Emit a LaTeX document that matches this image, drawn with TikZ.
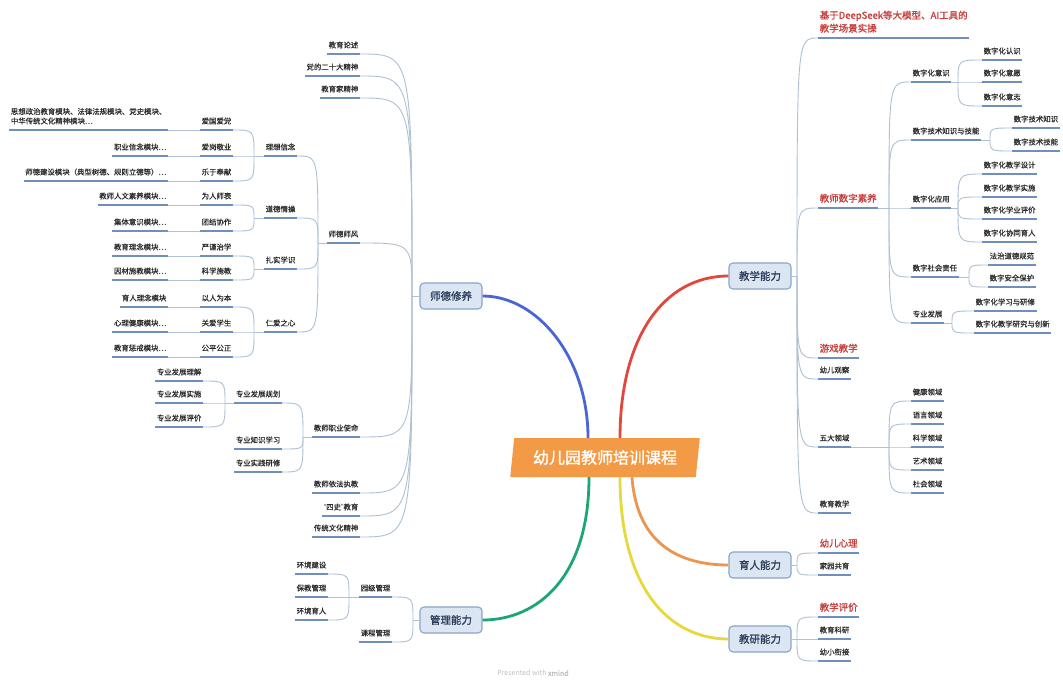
\documentclass[tikz,border=0pt]{standalone}
\usepackage{fontspec}
\setmainfont{Noto Sans CJK SC}
\newfontfamily\bfcjk{Noto Sans CJK SC}[FakeBold=1.2]
\newfontfamily\midcjk{Noto Sans CJK SC}[FakeBold=0.4]
\newfontfamily\latq{Liberation Sans}
\usetikzlibrary{shapes.geometric}
\definecolor{conncol}{HTML}{AFC0D2}
\definecolor{ulcol}{HTML}{6F8FC0}
\definecolor{txt}{HTML}{2A2A2A}
\definecolor{redt}{HTML}{C8403C}
\definecolor{boxfill}{HTML}{DCE6F3}
\definecolor{boxdraw}{HTML}{8AA5CB}
\definecolor{boxtxt}{HTML}{2E3F5C}
\definecolor{ctrcol}{HTML}{F29A45}
\definecolor{cblue}{HTML}{4A66D4}
\definecolor{cred}{HTML}{E0483C}
\definecolor{cgreen}{HTML}{1EA672}
\definecolor{cyellow}{HTML}{E7D83C}
\definecolor{corange}{HTML}{EC9550}
\tikzset{
 conn/.style={draw=conncol, line width=0.9pt},
 br/.style={to path={.. controls (\tikztostart |- \tikztotarget) .. (\tikztotarget)}},
 ul/.style={draw=ulcol, line width=1.7pt},
 lab/.style={font=\midcjk\fontsize{7.4}{9.5}\selectfont, text=txt, inner xsep=1.5pt, inner ysep=5pt, text depth=1pt,
   append after command={(\tikzlastnode.south west) edge[ul] (\tikzlastnode.south east)}},
 R/.style={lab, anchor=south west},
 L/.style={lab, anchor=south east},
 hl/.style={font=\bfcjk\fontsize{9.5}{13}\selectfont, text=redt},
 mainbox/.style={draw=boxdraw, fill=boxfill, rounded corners=4pt, line width=1.1pt, minimum width=62pt, minimum height=26pt, inner sep=0pt, font=\bfcjk\fontsize{10.5}{12}\selectfont, text=boxtxt},
 ctrbox/.style={trapezium, trapezium left angle=78, trapezium right angle=102, trapezium stretches=true, minimum width=190pt, minimum height=39pt, fill=ctrcol, text=white, font=\bfcjk\fontsize{16}{18}\selectfont, inner sep=0pt},
 mainconn/.style={line width=2.8pt}
}
\begin{document}
\begin{tikzpicture}[x=1pt,y=-1pt]
\fill[white] (0,0) rectangle (1063,681);
\useasboundingbox (0,0) rectangle (1063,681);

% ---------- center and main boxes ----------
\node[ctrbox] (ctr) at (605,457.5) {幼儿园教师培训课程};
\node[mainbox] (sdxy) at (451,296) {师德修养};
\node[mainbox] (jxnl) at (760,276) {教学能力};
\node[mainbox] (yrnl) at (760,565) {育人能力};
\node[mainbox] (jynl) at (760,639) {教研能力};
\node[mainbox] (glnl) at (451,620) {管理能力};

\coordinate (cB) at ([xshift=-17pt]ctr.north);
\coordinate (cR) at ([xshift=15pt]ctr.north);
\coordinate (cG) at ([xshift=-16pt]ctr.south);
\coordinate (cY) at ([xshift=15pt]ctr.south);
\coordinate (cO) at ([xshift=27pt]ctr.south);

\draw[mainconn, cblue] (sdxy.east) .. controls +(55,0) and +(0,-80) .. (cB);
\draw[mainconn, cred] (cR) .. controls +(0,-100) and +(-65,0) .. (jxnl.west);
\draw[mainconn, cgreen] (cG) .. controls +(0,100) and +(55,0) .. (glnl.east);
\draw[mainconn, cyellow] (cY) .. controls +(0,110) and +(-60,0) .. (jynl.west);
\draw[mainconn, corange] (cO) .. controls +(5,70) and +(-45,0) .. (yrnl.west);

% ---------- right side: 教学能力 ----------
\node[R,hl,align=left] (ai) at (818,38) {基于DeepSeek等大模型、AI工具的\\教学场景实操};
\node[R,hl] (szsy) at (818,208) {教师数字素养};
\node[R,hl] (yxjx) at (818,358) {游戏教学};
\node[R] (yegc) at (818,379) {幼儿观察};
\node[R] (wdly) at (818,447) {五大领域};
\node[R] (jyjx) at (818,513) {教育教学};

\node[R] (szys) at (911,82) {数字化意识};
\node[R] (szjs) at (911,140) {数字技术知识与技能};
\node[R] (szyy) at (911,208) {数字化应用};
\node[R] (szzr) at (911,277) {数字社会责任};
\node[R] (zyfz) at (911,323) {专业发展};

\node[R] (rs) at (982,60) {数字化认识};
\node[R] (yy) at (982,82) {数字化意愿};
\node[R] (yz) at (982,106) {数字化意志};
\node[R] (jszs) at (1012,128) {数字技术知识};
\node[R] (jsjn) at (1012,151) {数字技术技能};
\node[R] (jxsj) at (982,174) {数字化教学设计};
\node[R] (jxss) at (982,197) {数字化教学实施};
\node[R] (xypj) at (982,219) {数字化学业评价};
\node[R] (xtyr) at (982,242) {数字化协同育人};
\node[R] (fzdd) at (988,265) {法治道德规范};
\node[R] (aqbh) at (988,287) {数字安全保护};
\node[R] (xxyx) at (974,311) {数字化学习与研修};
\node[R] (yjcx) at (974,333) {数字化教学研究与创新};

\node[R] (jk) at (911,401) {健康领域};
\node[R] (yx) at (911,424) {语言领域};
\node[R] (kx) at (911,447) {科学领域};
\node[R] (ys) at (911,470) {艺术领域};
\node[R] (sh) at (911,493) {社会领域};

\node[R,hl] (yexl) at (818,553) {幼儿心理};
\node[R] (jygy) at (818,575) {家园共育};
\node[R,hl] (jxpj) at (818,617) {教学评价};
\node[R] (jyky) at (818,639) {教育科研};
\node[R] (yxxj) at (818,661) {幼小衔接};

\coordinate (hJX) at (797,276);
\coordinate (hSZ) at (889,208);
\coordinate (hWD) at (889,447);
\coordinate (hYS) at (958,82);
\coordinate (hJS) at (990,140);
\coordinate (hYY) at (958,208);
\coordinate (hZR) at (969,277);
\coordinate (hZY) at (952,323);
\coordinate (hYR) at (797,565);
\coordinate (hJY) at (797,639);

\draw[conn] (jxnl.east) -- (hJX);
\foreach \c in {ai,szsy,yxjx,yegc,wdly,jyjx} \draw[conn] (hJX) to[br] (\c.south west);
\draw[conn] (szsy.south east) -- (hSZ);
\foreach \c in {szys,szjs,szyy,szzr,zyfz} \draw[conn] (hSZ) to[br] (\c.south west);
\draw[conn] (wdly.south east) -- (hWD);
\foreach \c in {jk,yx,kx,ys,sh} \draw[conn] (hWD) to[br] (\c.south west);
\draw[conn] (szys.south east) -- (hYS);
\foreach \c in {rs,yy,yz} \draw[conn] (hYS) to[br] (\c.south west);
\draw[conn] (szjs.south east) -- (hJS);
\foreach \c in {jszs,jsjn} \draw[conn] (hJS) to[br] (\c.south west);
\draw[conn] (szyy.south east) -- (hYY);
\foreach \c in {jxsj,jxss,xypj,xtyr} \draw[conn] (hYY) to[br] (\c.south west);
\draw[conn] (szzr.south east) -- (hZR);
\foreach \c in {fzdd,aqbh} \draw[conn] (hZR) to[br] (\c.south west);
\draw[conn] (zyfz.south east) -- (hZY);
\foreach \c in {xxyx,yjcx} \draw[conn] (hZY) to[br] (\c.south west);
\draw[conn] (yrnl.east) -- (hYR);
\foreach \c in {yexl,jygy} \draw[conn] (hYR) to[br] (\c.south west);
\draw[conn] (jynl.east) -- (hJY);
\foreach \c in {jxpj,jyky,yxxj} \draw[conn] (hJY) to[br] (\c.south west);

% ---------- left side: 师德修养 ----------
\node[L] (jyls) at (360,54) {教育论述};
\node[L] (d20) at (360,76) {党的二十大精神};
\node[L] (jyj) at (360,98) {教育家精神};
\node[L] (sdsf) at (360,243) {师德师风};
\node[L] (zysm) at (360,437) {教师职业使命};
\node[L] (yfzj) at (360,493) {教师依法执教};
\node[L] (sishi) at (360,516) {{\latq “}四史{\latq ”}教育};
\node[L] (ctwh) at (360,537) {传统文化精神};

\node[L] (lxxn) at (297,156) {理想信念};
\node[L] (ddqc) at (297,218) {道德情操};
\node[L] (zsxs) at (297,269) {扎实学识};
\node[L] (razx) at (297,332) {仁爱之心};

\node[L] (agad) at (233,130) {爱国爱党};
\node[L] (agjy) at (233,156) {爱岗敬业};
\node[L] (lyfx) at (233,181) {乐于奉献};
\node[L] (wrsb) at (233,205) {为人师表};
\node[L] (tjxz) at (233,231) {团结协作};
\node[L] (yjzx) at (233,256) {严谨治学};
\node[L] (kxsj) at (233,280) {科学施教};
\node[L] (yrwb) at (233,307) {以人为本};
\node[L] (daxs) at (233,332) {关爱学生};
\node[L] (gpgz) at (233,357) {公平公正};

\node[L,align=left] (m1) at (168,130) {思想政治教育模块、法律法规模块、党史模块、\\中华传统文化精神模块…};
\node[L] (m2) at (168,156) {职业信念模块…};
\node[L] (m3) at (168,181) {师德建设模块（典型树德、规则立德等）…};
\node[L] (m4) at (168,205) {教师人文素养模块…};
\node[L] (m5) at (168,231) {集体意识模块…};
\node[L] (m6) at (168,256) {教育理念模块…};
\node[L] (m7) at (168,280) {因材施教模块…};
\node[L] (m8) at (168,307) {育人理念模块};
\node[L] (m9) at (168,332) {心理健康模块…};
\node[L] (m10) at (168,357) {教育惩戒模块…};

\node[L] (gh) at (282,403) {专业发展规划};
\node[L] (zsxx) at (282,449) {专业知识学习};
\node[L] (sjyx) at (282,472) {专业实践研修};
\node[L] (lj) at (203,381) {专业发展理解};
\node[L] (ss) at (203,403) {专业发展实施};
\node[L] (pj) at (203,427) {专业发展评价};

\node[L] (yjgl) at (392,597) {园级管理};
\node[L] (kcgl) at (392,642) {课程管理};
\node[L] (hjjs) at (328,574) {环境建设};
\node[L] (bjgl) at (328,597) {保教管理};
\node[L] (hjyr) at (328,620) {环境育人};

\coordinate (hSD) at (412,296);
\coordinate (hSF) at (318,243);
\coordinate (hLX) at (254,156);
\coordinate (hDD) at (254,218);
\coordinate (hZS) at (254,269);
\coordinate (hRA) at (254,332);
\coordinate (hSM) at (303,437);
\coordinate (hGH) at (225,403);
\coordinate (hGL) at (413,620);
\coordinate (hYJ) at (349,597);

\draw[conn] (sdxy.west) -- (hSD);
\foreach \c in {jyls,d20,jyj,sdsf,zysm,yfzj,sishi,ctwh} \draw[conn] (hSD) to[br] (\c.south east);
\draw[conn] (sdsf.south west) -- (hSF);
\foreach \c in {lxxn,ddqc,zsxs,razx} \draw[conn] (hSF) to[br] (\c.south east);
\draw[conn] (lxxn.south west) -- (hLX);
\foreach \c in {agad,agjy,lyfx} \draw[conn] (hLX) to[br] (\c.south east);
\draw[conn] (ddqc.south west) -- (hDD);
\foreach \c in {wrsb,tjxz} \draw[conn] (hDD) to[br] (\c.south east);
\draw[conn] (zsxs.south west) -- (hZS);
\foreach \c in {yjzx,kxsj} \draw[conn] (hZS) to[br] (\c.south east);
\draw[conn] (razx.south west) -- (hRA);
\foreach \c in {yrwb,daxs,gpgz} \draw[conn] (hRA) to[br] (\c.south east);
\draw[conn] (agad.south west) -- (m1.south east);
\draw[conn] (agjy.south west) -- (m2.south east);
\draw[conn] (lyfx.south west) -- (m3.south east);
\draw[conn] (wrsb.south west) -- (m4.south east);
\draw[conn] (tjxz.south west) -- (m5.south east);
\draw[conn] (yjzx.south west) -- (m6.south east);
\draw[conn] (kxsj.south west) -- (m7.south east);
\draw[conn] (yrwb.south west) -- (m8.south east);
\draw[conn] (daxs.south west) -- (m9.south east);
\draw[conn] (gpgz.south west) -- (m10.south east);
\draw[conn] (zysm.south west) -- (hSM);
\foreach \c in {gh,zsxx,sjyx} \draw[conn] (hSM) to[br] (\c.south east);
\draw[conn] (gh.south west) -- (hGH);
\foreach \c in {lj,ss,pj} \draw[conn] (hGH) to[br] (\c.south east);
\draw[conn] (glnl.west) -- (hGL);
\foreach \c in {yjgl,kcgl} \draw[conn] (hGL) to[br] (\c.south east);
\draw[conn] (yjgl.south west) -- (hYJ);
\foreach \c in {hjjs,bjgl,hjyr} \draw[conn] (hYJ) to[br] (\c.south east);

\node[font=\fontsize{7}{8}\selectfont, text=black!25] (pw) at (533,673) {Presented with {\bfcjk xmind}};
\end{tikzpicture}
\end{document}
